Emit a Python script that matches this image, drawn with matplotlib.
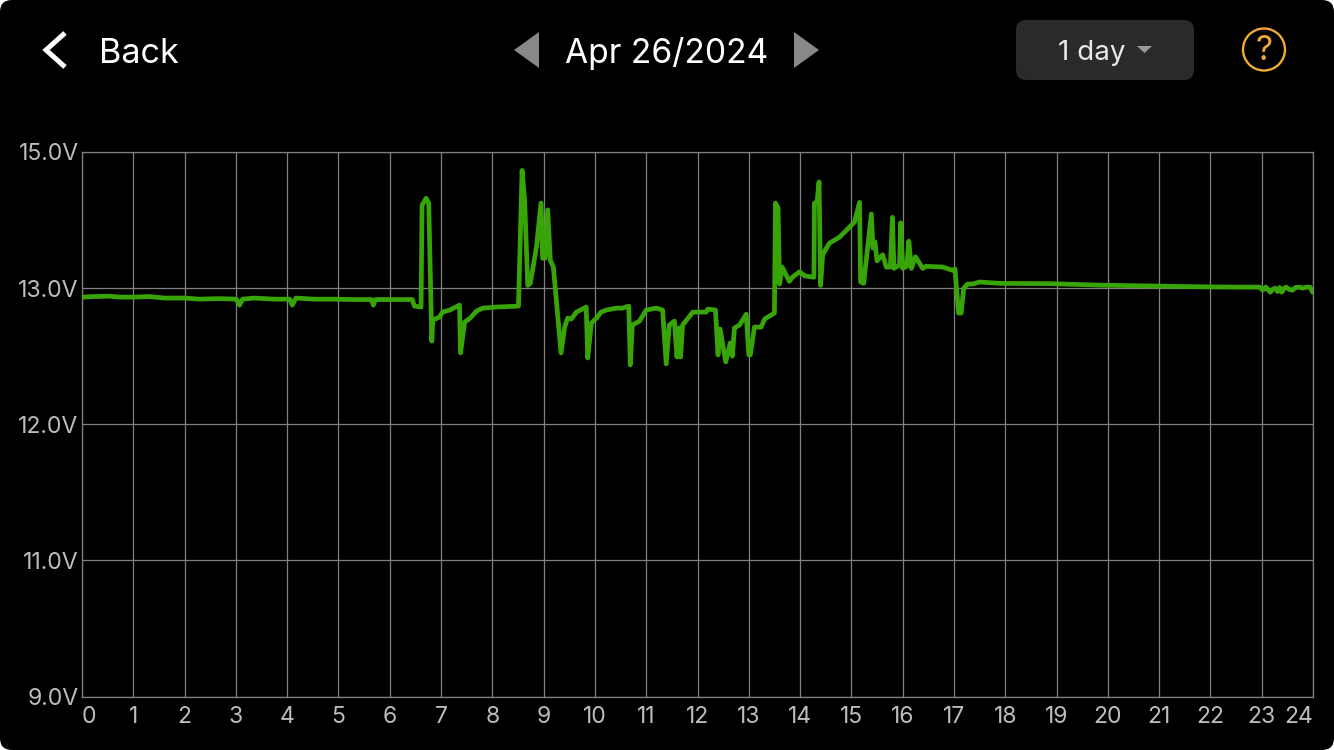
import numpy as np
import matplotlib
matplotlib.use("Agg")
import matplotlib.pyplot as plt
from matplotlib.patches import FancyBboxPatch, Polygon, Circle

plt.rcParams['font.family'] = ['Inter', 'DejaVu Sans']

# Data: hour of day and battery voltage
hours = [0.00,0.24,0.54,0.73,1.02,1.32,1.61,2.00,2.29,2.68,3.01,3.07,3.13,3.36,3.75,4.05,4.10,4.17,4.53,4.92,
         5.31,5.64,5.68,5.72,6.09,6.44,6.48,6.61,6.63,6.71,6.76,6.82,6.84,6.97,7.03,7.17,7.36,7.38,7.46,7.57,
         7.69,7.81,8.08,8.51,8.58,8.63,8.69,8.74,8.86,8.95,8.98,9.03,9.08,9.13,9.19,9.34,9.41,9.47,9.54,9.64,
         9.83,9.86,9.93,10.03,10.12,10.22,10.42,10.54,10.66,10.69,10.73,10.87,11.00,11.20,11.32,11.39,11.45,11.55,11.60,11.64,
         11.67,11.71,11.91,12.17,12.20,12.35,12.40,12.44,12.55,12.64,12.68,12.72,12.82,12.95,13.00,13.03,13.11,13.24,13.31,13.50,
         13.52,13.57,13.60,13.65,13.79,13.85,13.99,14.09,14.27,14.28,14.33,14.37,14.40,14.44,14.57,14.77,14.93,15.06,15.16,15.18,
         15.24,15.39,15.42,15.46,15.50,15.61,15.68,15.76,15.80,15.83,15.94,15.96,16.00,16.08,16.12,16.17,16.25,16.39,16.46,16.78,
         16.98,17.02,17.09,17.14,17.19,17.27,17.36,17.50,17.89,18.86,19.84,20.42,21.00,21.79,22.57,22.96,
         23.02,23.08,23.12,23.17,23.21,23.26,23.31,23.35,23.39,23.44,23.48,23.54,23.60,23.66,23.73,23.80,23.87,23.94,23.99]
volts = [12.934,12.938,12.941,12.934,12.934,12.938,12.927,12.927,12.919,12.923,12.919,12.875,12.919,12.927,12.919,12.919,12.875,12.927,12.919,12.919,
         12.916,12.916,12.875,12.916,12.916,12.916,12.868,12.861,14.22,14.32,14.25,12.61,12.765,12.787,12.824,12.839,12.875,12.524,12.75,12.78,
         12.831,12.853,12.861,12.868,14.73,14.29,13.04,13.07,13.60,14.25,13.44,13.44,14.15,13.41,13.31,12.524,12.714,12.78,12.773,12.824,
         12.861,12.487,12.743,12.78,12.824,12.839,12.853,12.853,12.868,12.436,12.729,12.758,12.839,12.853,12.839,12.443,12.729,12.758,12.494,12.707,
         12.494,12.729,12.824,12.824,12.846,12.839,12.509,12.70,12.458,12.597,12.50,12.707,12.729,12.809,12.509,12.509,12.714,12.714,12.773,12.817,
         14.25,14.18,13.06,13.31,13.10,13.16,13.24,13.18,13.16,14.25,14.26,14.56,13.04,13.49,13.66,13.75,13.87,13.97,14.26,13.09,
         13.07,14.09,13.59,13.68,13.40,13.49,13.31,13.31,14.04,13.29,13.34,13.96,13.29,13.32,13.69,13.29,13.46,13.29,13.32,13.31,
         13.26,13.28,12.817,12.817,13.00,13.06,13.06,13.09,13.07,13.066,13.044,13.037,13.03,13.02,13.015,13.015,
         12.985,13.015,12.99,12.97,12.99,13.0,12.975,13.01,12.97,13.0,13.015,12.99,12.985,13.01,13.015,13.0,13.015,13.015,12.975]
volt_ticks = [9, 11, 12, 13, 15]
volt_labels = ['9.0V', '11.0V', '12.0V', '13.0V', '15.0V']
hour_ticks = list(range(25))
hour_labels = [str(h) for h in hour_ticks]
date_label = 'Apr 26/2024'
back_label = 'Back'
range_label = '1 day'

W, H = 1334, 750
GRID = '#808080'
LABEL = '#bdbdbd'
GREEN = '#38a408'
AMBER = '#f0a935'

fig = plt.figure(figsize=(W / 100, H / 100), dpi=100, facecolor='white')

# Overlay in pixel units for the app chrome
ui = fig.add_axes([0, 0, 1, 1], zorder=0)
ui.set_xlim(0, W)
ui.set_ylim(H, 0)
ui.axis('off')
ui.add_patch(FancyBboxPatch((10, 10), W - 20, H - 20, boxstyle='round,pad=10,rounding_size=12',
                            fc='black', ec='none'))
ui.plot([65, 46, 65], [33, 50, 67], color='white', lw=3.6, solid_joinstyle='miter', solid_capstyle='butt')
ui.text(99, 54, back_label, color='white', fontsize=24.6, va='center', ha='left')
ui.add_patch(Polygon([(539, 32), (514, 50), (539, 68)], fc='#888888', ec='none'))
ui.add_patch(Polygon([(794, 32), (819, 50), (794, 68)], fc='#888888', ec='none'))
ui.text(667, 54, date_label, color='white', fontsize=24.2, va='center', ha='center')
ui.add_patch(FancyBboxPatch((1026, 30), 158, 40, boxstyle='round,pad=10,rounding_size=10',
                            fc='#2a2a2a', ec='none'))
ui.text(1092, 52.5, range_label, color='#e8e8e8', fontsize=20, va='center', ha='center')
ui.add_patch(Polygon([(1137, 46), (1152, 46), (1144.5, 53)], fc='#9a9a9a', ec='none'))
ui.add_patch(Circle((1264, 49.5), 21, fc='none', ec=AMBER, lw=1.7))
ui.text(1264, 51, '?', color=AMBER, fontsize=24, va='center', ha='center')

# Chart: the printed voltage labels are evenly spaced, so the scale is piecewise
left, right, top, bottom = 82, 1313, 152, 696.5
ax = fig.add_axes([left / W, (H - bottom) / H, (right - left) / W, (bottom - top) / H], zorder=1)
ax.set_facecolor('none')

positions = np.arange(len(volt_ticks), dtype=float)
forward = lambda v: np.interp(v, volt_ticks, positions)
inverse = lambda p: np.interp(p, positions, volt_ticks)
ax.set_yscale('function', functions=(forward, inverse))

ax.plot(hours, volts, color=GREEN, lw=3.4, solid_joinstyle='round', zorder=3, clip_on=True)

ax.set_xlim(hour_ticks[0], hour_ticks[-1])
ax.set_ylim(volt_ticks[0], volt_ticks[-1])
ax.set_xticks(hour_ticks, hour_labels)
ax.set_yticks(volt_ticks, volt_labels)
ax.minorticks_off()
ax.grid(True, color=GRID, lw=0.9, zorder=1)
ax.set_axisbelow(True)
for s in ax.spines.values():
    s.set_color(GRID)
    s.set_linewidth(0.9)
ax.tick_params(axis='x', length=0, colors=LABEL, labelsize=16.5, pad=7)
ax.tick_params(axis='y', length=0, colors=LABEL, labelsize=16.6, pad=2.5)
xt = ax.get_xticklabels()
xt[0].set_ha('left')
xt[-1].set_ha('right')

fig.savefig('out.png', dpi=100, facecolor=fig.get_facecolor())
